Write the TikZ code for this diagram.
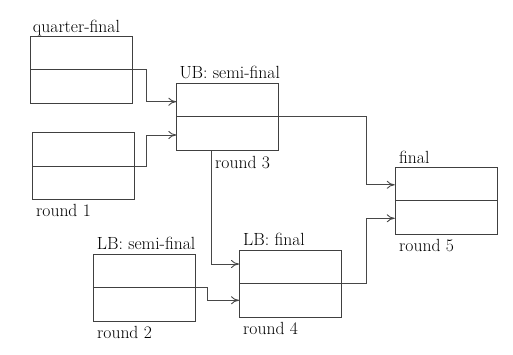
\documentclass[tikz,border=0pt]{standalone}
\usetikzlibrary{arrows.meta}
\begin{document}
\begin{tikzpicture}[x=1pt,y=-1pt,
  match/.style={draw=black!75,line width=0.9pt,minimum width=102pt,minimum height=67pt,inner sep=0pt},
  lbl/.style={inner sep=0pt,anchor=base west,font=\fontsize{17.6}{21}\selectfont},
  conn/.style={draw=black!72,line width=0.9pt,-{To[length=8pt,width=8pt]}},
  divider/.style={draw=black!75,line width=0.9pt}]
\useasboundingbox (0,0) rectangle (513,354);
% boxes
\node[match] (A) at (81.7,69.7) {};
\node[match] (B) at (83.8,166.3) {};
\node[match] (C) at (227.8,116.7) {};
\node[match] (D) at (446.2,200.8) {};
\node[match] (E) at (144.3,287.5) {};
\node[match] (F) at (290.5,283.8) {};
\foreach \n in {A,B,C,D,E,F}{\draw[divider] (\n.west) -- (\n.east);}
% labels
\node[lbl] (tA) at (32.7,32.3) {quarter-final};
\node[lbl] (tB) at (36,216.7) {round 1};
\node[lbl] (tC) at (179.3,78.3) {UB: semi-final};
\node[lbl] (tC2) at (215,168.3) {round 3};
\node[lbl] (tD) at (399,163) {final};
\node[lbl] (tD2) at (399,251.3) {round 5};
\node[lbl] (tE) at (96.7,249.3) {LB: semi-final};
\node[lbl] (tE2) at (97,338) {round 2};
\node[lbl] (tF) at (243,245.7) {LB: final};
\node[lbl] (tF2) at (243,334.3) {round 4};
% junction columns
\coordinate (j1) at (146.7,0);
\coordinate (j2) at (366.5,0);
\coordinate (j3) at (207.7,0);
\coordinate (j4) at (211,0);
% connectors
\draw[conn] (A.east) -- (A.east -| j1) |- ([yshift=15pt]C.west);
\draw[conn] (B.east) -- (B.east -| j1) |- ([yshift=-18.3pt]C.west);
\draw[conn] (C.east) -- (C.east -| j2) |- ([yshift=16pt]D.west);
\draw[conn] (F.east) -- (F.east -| j2) |- ([yshift=-17.5pt]D.west);
\draw[conn] (E.east) -- (E.east -| j3) |- ([yshift=-16.5pt]F.west);
\draw[conn] (C.south -| j4) |- ([yshift=19.8pt]F.west);
\end{tikzpicture}
\end{document}
